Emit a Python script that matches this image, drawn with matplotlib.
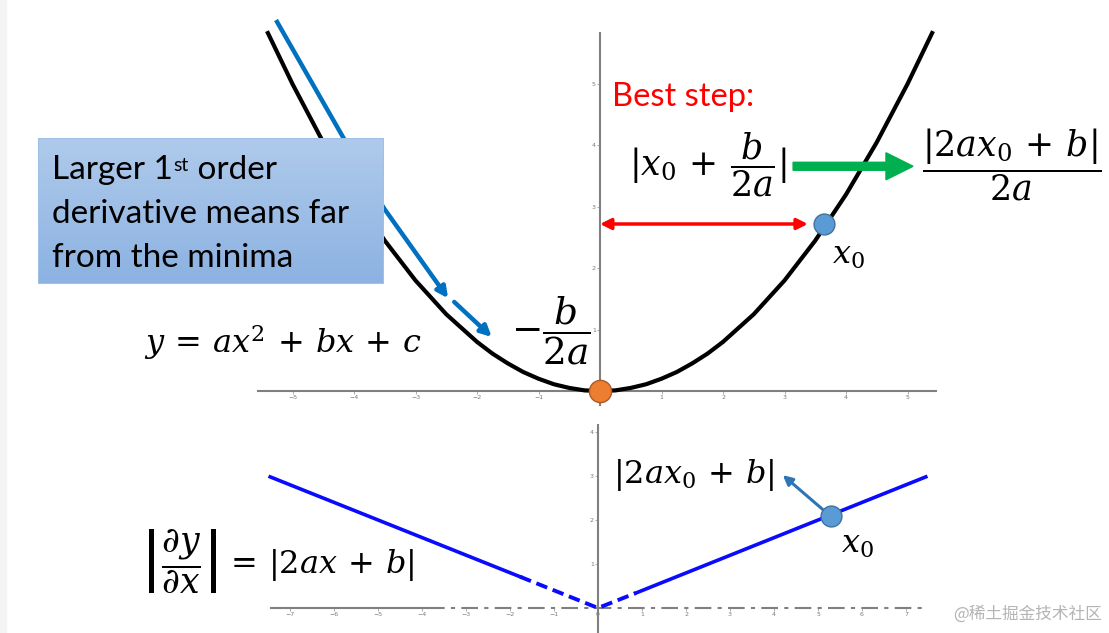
import numpy as np
import matplotlib.pyplot as plt
from matplotlib.patches import Rectangle
from matplotlib.colors import LinearSegmentedColormap

W, H = 1109, 633

# quadratic y = ax^2 + bx + c
par_x = [-5.4, -5.0, -4.5, -4.0, -3.5, -3.0, -2.5, -2.0, -1.75, -1.5, -1.25, -1.0,
         -0.75, -0.5, -0.25, 0.0, 0.25, 0.5, 0.75, 1.0, 1.25, 1.5, 1.75, 2.0,
         2.5, 3.0, 3.5, 4.0, 4.5, 5.0, 5.4]
par_y = [5.83, 5.0, 4.05, 3.2, 2.45, 1.8, 1.25, 0.8, 0.61, 0.45, 0.31, 0.2,
         0.11, 0.05, 0.01, 0.0, 0.01, 0.05, 0.11, 0.2, 0.31, 0.45, 0.61, 0.8,
         1.25, 1.8, 2.45, 3.2, 4.05, 5.0, 5.83]

# |dy/dx| in the lower panel (dashed piece near the origin)
v_x = [-7.45, -1.77, 0.0, 0.86, 7.45]
v_y = [2.98, 0.71, 0.0, 0.34, 2.98]

minimum = (0.0, 0.0)
x0_up = (3.64, 2.72)
x0_low = (5.30, 2.10)

step_arrow = (0.0, 3.38, 2.72)          # x start, x end, y
green_arrow = (3.14, 5.09, 3.66)
slide_x1 = [-5.25, -3.53, -2.47]
slide_y1 = [6.01, 3.00, 1.51]
slide_x2 = [-2.37, -1.76]
slide_y2 = [1.45, 0.88]
grad_arrow = [(5.20, 2.16), (4.20, 3.02)]

up_xticks = [-5, -4, -3, -2, -1, 0, 1, 2, 3, 4, 5]
up_yticks = [1, 2, 3, 4, 5]
low_xticks = [-7, -6, -5, -4, -3, -2, -1, 0, 1, 2, 3, 4, 5, 6, 7]
low_yticks = [1, 2, 3, 4]

plt.rcParams['mathtext.fontset'] = 'dejavuserif'
fig = plt.figure(figsize=(W / 100, H / 100), dpi=100)
fig.add_artist(Rectangle((0, 0), 6 / W, 1, transform=fig.transFigure,
                         color='#f4f4f4', zorder=-5))


def px(x, y):
    return x / W, 1 - y / H


def style_axes(ax, xb, yb, xt, yt):
    ax.set_facecolor('none')
    for s in ['top', 'right']:
        ax.spines[s].set_visible(False)
    for s in ['left', 'bottom']:
        ax.spines[s].set_position(('data', 0))
        ax.spines[s].set_color('#808080')
        ax.spines[s].set_linewidth(1.5)
    ax.spines['left'].set_bounds(*yb)
    ax.spines['bottom'].set_bounds(*xb)
    ax.set_xticks(xt)
    ax.set_yticks(yt)
    ax.tick_params(length=2, width=0.6, colors='#a0a0a0', labelcolor='#7a7a7a',
                   labelsize=4.5, pad=1)


# upper panel
ax1 = fig.add_axes([0, 1 - 420 / H, 1, 420 / H])
ax1.set_xlim(-600 / 61.5, (W - 600) / 61.5)
ax1.set_ylim(-29 / 61.4, 391 / 61.4)
style_axes(ax1, (-5.56, 5.46), (-0.23, 5.83), up_xticks, up_yticks)

ax1.plot(par_x, par_y, color='black', lw=3, solid_joinstyle='round', zorder=3)

blue = '#0070c0'
ax1.plot(slide_x1[:2], slide_y1[:2], color=blue, lw=3.2, zorder=2)
ax1.annotate('', xy=(slide_x1[2], slide_y1[2]), xytext=(slide_x1[1], slide_y1[1]),
             arrowprops=dict(arrowstyle='-|>', color=blue, lw=3.2, mutation_scale=16,
                             shrinkA=0, shrinkB=0))
ax1.annotate('', xy=(slide_x2[1], slide_y2[1]), xytext=(slide_x2[0], slide_y2[0]),
             arrowprops=dict(arrowstyle='-|>', color=blue, lw=3.2, mutation_scale=16,
                             shrinkA=0, shrinkB=0))

ax1.annotate('', xy=(step_arrow[1], step_arrow[2]), xytext=(step_arrow[0], step_arrow[2]),
             arrowprops=dict(arrowstyle='<|-|>', color='#ff0000', lw=2.5,
                             mutation_scale=16, shrinkA=0, shrinkB=0), zorder=4)
ax1.arrow(green_arrow[0], green_arrow[2], green_arrow[1] - green_arrow[0], 0,
          width=0.13, head_width=0.44, head_length=0.44, length_includes_head=True,
          color='#00b050', zorder=4)

ax1.plot(*x0_up, 'o', ms=15, color='#5b9bd5', mec='#41719c', mew=1, zorder=6)
ax1.plot(*minimum, 'o', ms=16, color='#ed7d31', mec='#ae5a21', mew=1, zorder=6,
         clip_on=False)

# lower panel
ax2 = fig.add_axes([0, 0, 1, 213 / H])
ax2.set_xlim(-598 / 44, (W - 598) / 44)
ax2.set_ylim(-25 / 44, 188 / 44)
style_axes(ax2, (-7.43, -3.86), (-0.57, 4.16), low_xticks, low_yticks)
ax2.plot([-3.86, 7.43], [0, 0], color='#808080', lw=1.5, dashes=(8, 3, 2, 3))

vblue = '#0a0aff'
ax2.plot(v_x[:2], v_y[:2], color=vblue, lw=2.6)
ax2.plot(v_x[1:4], v_y[1:4], color=vblue, lw=2.8, dashes=(3, 1.5))
ax2.plot(v_x[3:], v_y[3:], color=vblue, lw=2.6)
ax2.annotate('', xy=grad_arrow[1], xytext=grad_arrow[0],
             arrowprops=dict(arrowstyle='-|>', color='#2e75b6', lw=2.2,
                             mutation_scale=14, shrinkA=0, shrinkB=0))
ax2.plot(*x0_low, 'o', ms=15, color='#5b9bd5', mec='#41719c', mew=1, zorder=6)

# callout box
box_ax = fig.add_axes([38 / W, 1 - 284 / H, 346 / W, 146 / H])
cmap = LinearSegmentedColormap.from_list('box', ['#afcaeb', '#8cb2e2'])
box_ax.imshow(np.linspace(0, 1, 64).reshape(-1, 1), cmap=cmap, aspect='auto',
              extent=[0, 1, 0, 1])
box_ax.add_patch(Rectangle((0, 0), 1, 1, transform=box_ax.transAxes, fill=False,
                           edgecolor='#9fc1e8', lw=1.5))
box_ax.axis('off')

font = dict(family='Lato', color='black')
l1 = box_ax.annotate('Larger 1', xy=px(52, 179), xycoords='figure fraction',
                     va='baseline', fontsize=24, **font)
st = box_ax.annotate('st', xy=(1, 1), xycoords=l1, va='top', ha='left',
                     xytext=(0.5, -1.5), textcoords='offset points', fontsize=14, **font)
box_ax.annotate(' order', xy=(1, 0), xycoords=(st, l1), va='bottom', ha='left',
                fontsize=24, **font)
box_ax.annotate('derivative means far', xy=px(52, 223), xycoords='figure fraction',
                va='baseline', fontsize=24, **font)
box_ax.annotate('from the minima', xy=px(52, 267), xycoords='figure fraction',
                va='baseline', fontsize=24, **font)

# labels
fig.text(*px(612, 106), 'Best step:', color='#ff0000', family='Lato', fontsize=23.5,
         va='baseline')
msize = 23
fig.text(*px(708, 165), r'$|x_0\,+\,\dfrac{b}{2a}|$', fontsize=25, ha='center',
         va='center')
fig.text(*px(1012, 165), r'$\dfrac{|2ax_0\,+\,b|}{2a}$', fontsize=25, ha='center',
         va='center')
fig.text(*px(848, 255), r'$x_0$', fontsize=msize, ha='center', va='center')
fig.text(*px(144, 342), r'$y\,=\,ax^2\,+\,bx\,+\,c$', fontsize=msize, ha='left',
         va='center')
fig.text(*px(551, 331), r'$-\dfrac{b}{2a}$', fontsize=27, ha='center', va='center')
fig.text(*px(140, 562), r'$\left|\dfrac{\partial y}{\partial x}\right|$',
         fontsize=25, ha='left', va='center')
fig.text(*px(224, 565), r'$=\,|2ax\,+\,b|$', fontsize=msize, ha='left', va='center')
fig.text(*px(613, 475), r'$|2ax_0\,+\,b|$', fontsize=msize, ha='left', va='center')
fig.text(*px(857, 545), r'$x_0$', fontsize=msize, ha='center', va='center')

fig.text(*px(1102, 614), '@稀土掘金技术社区', family=['Noto Sans CJK SC', 'DejaVu Sans'],
         color='#b4b4b4', fontsize=12, ha='right', va='center')

fig.savefig('out.png', dpi=100)
